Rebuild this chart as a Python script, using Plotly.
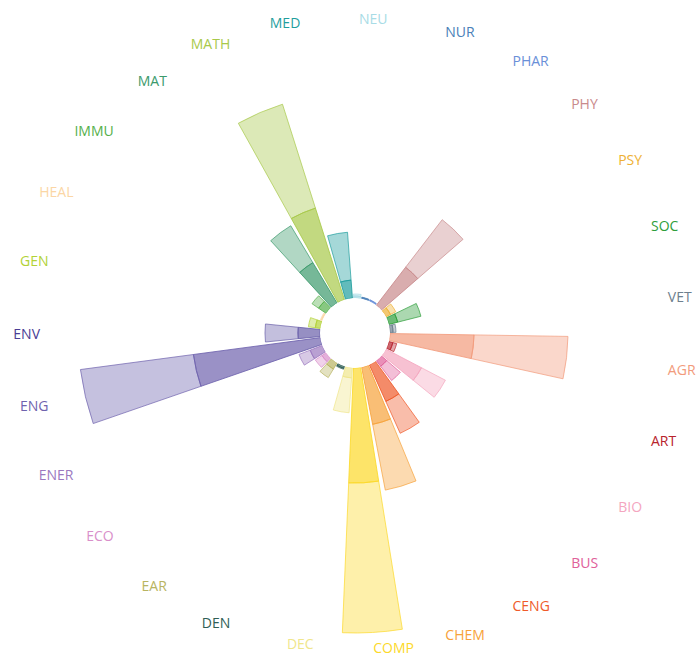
import plotly.graph_objects as go

categories = ["AGR", "ART", "BIO", "BUS", "CENG", "CHEM", "COMP", "DEC", "DEN", "EAR",
              "ECO", "ENER", "ENG", "ENV", "GEN", "HEAL", "IMMU", "MAT", "MATH", "MED",
              "NEU", "NUR", "PHAR", "PHY", "PSY", "SOC", "VET"]

# inner (darker) segment and outer (lighter) segment values
inner_values = [84, 4, 40, 7, 40, 58, 115, 10, 2, 7,
                5, 13, 128, 22, 5, 1, 9, 47, 96, 18,
                2, 1, 1, 48, 5, 9, 3]
outer_values = [94, 4, 27, 18, 35, 67, 150, 35, 1, 10,
                8, 12, 114, 33, 7, 1, 8, 43, 109, 48,
                2, 0.5, 0.5, 60, 6, 24, 3]

colors = ["#f29b7c", "#b8232d", "#f4a6bf", "#e0609a", "#ef5a2a", "#f7a23a", "#fcd92a",
          "#f0e68c", "#2f5e55", "#b8b462", "#d98fca", "#9b78bf", "#6f63ae", "#4a3d94",
          "#b2d235", "#fbd6a5", "#55b04b", "#3c9a6c", "#a8c94a", "#1f9e9e", "#a8dce6",
          "#4a80b8", "#6a8fd8", "#c98a8c", "#eeb134", "#2e9e3a", "#6e7f8e"]
bar_colors = list(colors)
bar_colors[13] = "#6a60aa"  # ENV bars are lighter than its label

n = len(categories)
step = 360.0 / n
thetas = [i * step for i in range(n)]


def rgba(hex_color, a):
    h = hex_color.lstrip("#")
    r, g, b = int(h[0:2], 16), int(h[2:4], 16), int(h[4:6], 16)
    return f"rgba({r},{g},{b},{a})"


fig = go.Figure()
fig.add_trace(go.Barpolar(
    r=inner_values, theta=thetas, width=11.5,
    marker=dict(color=[rgba(c, 0.7) for c in bar_colors],
                line=dict(color=[rgba(c, 0.85) for c in bar_colors], width=1)),
    hoverinfo="skip", showlegend=False,
))
fig.add_trace(go.Barpolar(
    r=outer_values, theta=thetas, width=11.5,
    marker=dict(color=[rgba(c, 0.4) for c in bar_colors],
                line=dict(color=[rgba(c, 0.7) for c in bar_colors], width=1)),
    hoverinfo="skip", showlegend=False,
))

label_r = 315
positions = []
for t in thetas:
    compass = (t + 96.667) % 360
    if 10 < compass < 180:
        positions.append("middle right")
    elif 195 < compass < 360:
        positions.append("middle left")
    else:
        positions.append("middle center")

fig.add_trace(go.Scatterpolar(
    r=[label_r] * n, theta=thetas, mode="text", text=categories,
    textposition=positions,
    textfont=dict(family="Open Sans", size=14, color=colors),
    cliponaxis=False, hoverinfo="skip", showlegend=False,
    subplot="polar2",
))

angular = dict(visible=False, rotation=-6.667, direction="clockwise",
               thetaunit="degrees")

fig.update_layout(
    width=699, height=653,
    margin=dict(l=11, r=0, t=13, b=0),
    paper_bgcolor="white",
    polar=dict(
        domain=dict(x=[0, 1], y=[0, 1]),
        bgcolor="white",
        hole=35 / 320,
        barmode="stack",
        radialaxis=dict(range=[0, 285], visible=False),
        angularaxis=angular,
    ),
    polar2=dict(
        domain=dict(x=[0, 1], y=[0, 1 - 4 / 640]),
        bgcolor="rgba(0,0,0,0)",
        radialaxis=dict(range=[0, 318], visible=False),
        angularaxis=angular,
    ),
)

fig.write_html("out.html", config={"displayModeBar": False},
               post_script="document.body.style.margin='0';")
